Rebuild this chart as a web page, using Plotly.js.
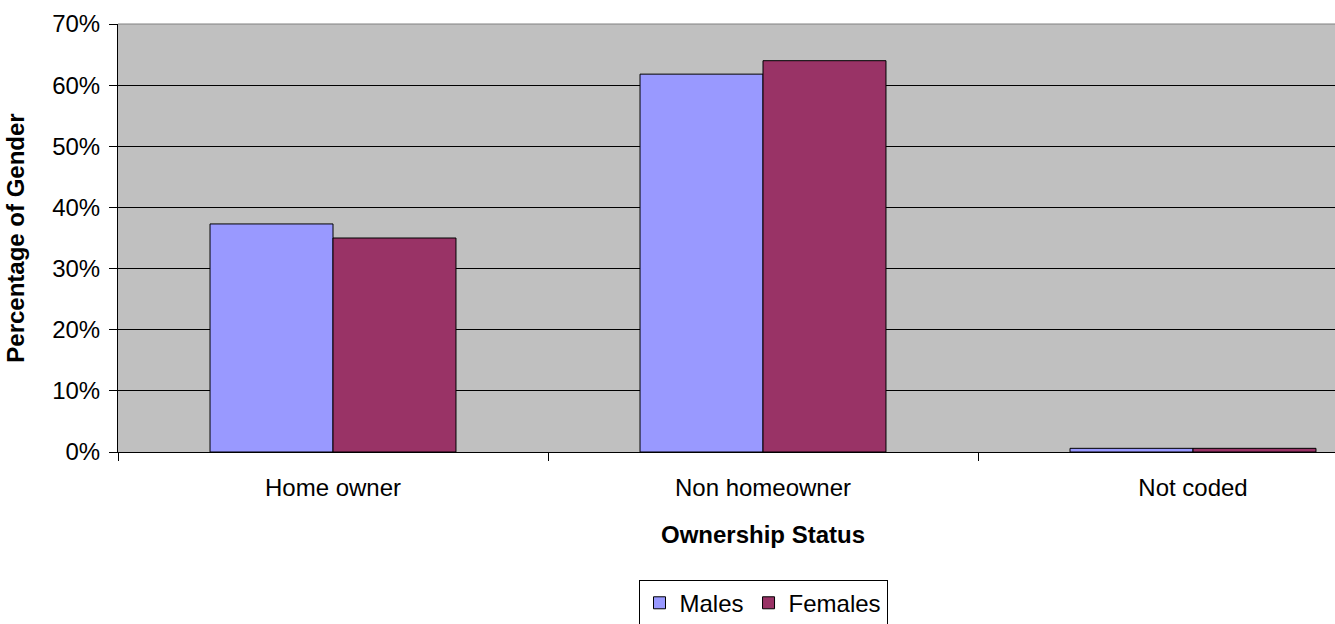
<!DOCTYPE html>
<html>
<head>
<meta charset="utf-8">
<script src="https://cdn.plot.ly/plotly-3.0.1.min.js"></script>
<style>
html, body { margin: 0; padding: 0; overflow: hidden; background: #fff; }
#chart { width: 1410px; height: 624px; }
</style>
</head>
<body>
<div id="chart"></div>
<script>
const categories = ["Home owner", "Non homeowner", "Not coded"];
const males = [37.3, 61.8, 0.6];
const females = [35.0, 64.0, 0.6];
const yTickVals = [0, 10, 20, 30, 40, 50, 60, 70];
const yTickText = ["0%", "10%", "20%", "30%", "40%", "50%", "60%", "70%"];

const font = { family: "Liberation Sans, Arial, sans-serif", size: 24, color: "#000" };

const traces = [
  {
    type: "bar", name: "Males", x: categories, y: males,
    marker: { color: "#9999FF", line: { color: "#000", width: 1 } },
    hoverinfo: "skip"
  },
  {
    type: "bar", name: "Females", x: categories, y: females,
    marker: { color: "#993366", line: { color: "#000", width: 1 } },
    hoverinfo: "skip"
  }
];

const layout = {
  width: 1410, height: 624,
  margin: { l: 118, r: 2, t: 24, b: 172, autoexpand: false },
  paper_bgcolor: "#fff",
  plot_bgcolor: "#C0C0C0",
  font: font,
  barmode: "group",
  bargap: 0.428,
  bargroupgap: 0,
  showlegend: true,
  legend: {
    orientation: "h", x: 0.5, xanchor: "center",
    yref: "container", y: 0.071, yanchor: "top",
    bgcolor: "#fff", bordercolor: "#000", borderwidth: 1,
    font: { family: font.family, size: 24, color: "#000" },
    itemwidth: 30, tracegroupgap: 0
  },
  xaxis: {
    type: "category",
    automargin: false,
    tickson: "boundaries",
    ticks: "outside", ticklen: 8, tickcolor: "#000", tickwidth: 1,
    showline: true, linecolor: "#000", linewidth: 1,
    showgrid: false, zeroline: false,
    ticklabelstandoff: 14,
    tickfont: { family: font.family, size: 24, color: "#000" },
    title: { text: "Ownership Status", font: { family: font.family, size: 24, color: "#000", weight: "bold" }, standoff: 26 }
  },
  yaxis: {
    range: [0, 70],
    automargin: false,
    tickvals: yTickVals, ticktext: yTickText,
    ticks: "outside", ticklen: 8, tickcolor: "#000", tickwidth: 1,
    showline: true, linecolor: "#000", linewidth: 1,
    showgrid: true, gridcolor: "#000", gridwidth: 1,
    zeroline: false,
    ticklabelstandoff: 4,
    tickfont: { family: font.family, size: 24, color: "#000" },
    title: { text: "Percentage of Gender", font: { family: font.family, size: 24, color: "#000", weight: "bold" }, standoff: 20 }
  },
  shapes: [
    { type: "line", xref: "paper", yref: "paper", x0: 0, x1: 1, y0: 1, y1: 1, line: { color: "#808080", width: 1 }, layer: "above" }
  ]
};

Plotly.newPlot("chart", traces, layout, { staticPlot: true, displayModeBar: false });
</script>
</body>
</html>
